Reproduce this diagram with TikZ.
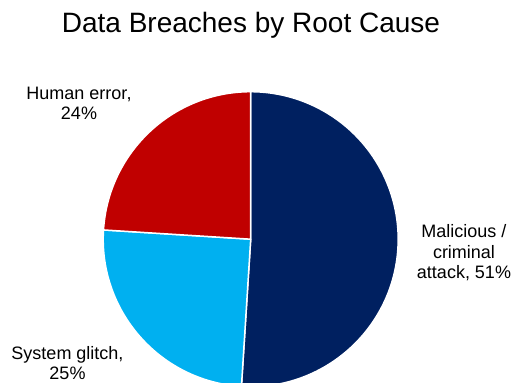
\documentclass[tikz,border=0pt]{standalone}
\usepackage{fontspec}
\setmainfont{Liberation Sans}
\definecolor{navyc}{RGB}{0,32,96}
\definecolor{redc}{RGB}{192,0,0}
\definecolor{bluec}{RGB}{0,176,240}
\begin{document}
\begin{tikzpicture}[x=1pt,y=1pt,
  slice/.style={draw=white,line width=1.5pt,line join=round},
  lbl/.style={align=center,inner sep=0pt,anchor=base,font=\fontsize{18}{20.6}\selectfont},
  ttl/.style={inner sep=0pt,anchor=base,font=\fontsize{28}{32}\selectfont}]
\useasboundingbox (0,0) rectangle (512,383);
\coordinate (c) at (250.7,143.8);
\def\R{147.5}
\fill[white] (0,0) rectangle (512,383);
\filldraw[slice,fill=navyc] (c) -- ++(-93.6:\R) arc[start angle=-93.6,end angle=90,radius=\R] -- cycle;
\filldraw[slice,fill=bluec] (c) -- ++(176.4:\R) arc[start angle=176.4,end angle=266.4,radius=\R] -- cycle;
\filldraw[slice,fill=redc] (c) -- ++(90:\R) arc[start angle=90,end angle=176.4,radius=\R] -- cycle;
\node[ttl] (title) at (251,350.5) {Data Breaches by Root Cause};
\node[lbl] (human) at (79,263) {Human error,\\24\%};
\node[lbl] (mal) at (464,104) {Malicious /\\criminal\\attack, 51\%};
\node[lbl] (sys) at (67.5,3.2) {System glitch,\\25\%};
\end{tikzpicture}
\end{document}
